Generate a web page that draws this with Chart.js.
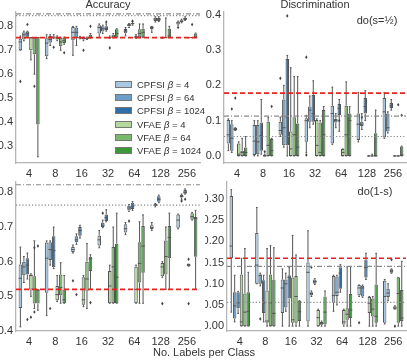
<!DOCTYPE html>
<html>
<head>
<meta charset="utf-8">
<script src="https://cdn.jsdelivr.net/npm/chart.js@4.4.1/dist/chart.umd.min.js"></script>
<style>
  body { margin: 0; background: #fff; }
  #wrap { position: relative; width: 407px; height: 361px; font-family: 'Liberation Sans', Arial, sans-serif; color: #333; }
  canvas { position: absolute; }
  .txt { position: absolute; white-space: nowrap; font-size: 11px; color: #333; }
  #legend { position: absolute; left: 115px; top: 78px; font-size: 9.5px; color: #333; }
  #legend div { height: 13.2px; line-height: 13.2px; }
  #legend span.patch { display: inline-block; width: 15px; height: 5px; border: 1px solid #777; vertical-align: middle; margin-right: 5px; margin-top: -2px; }
</style>
</head>
<body>
<div id="wrap">
  <canvas id="acc" width="205" height="180" style="left:0;top:0"></canvas>
  <canvas id="disc" width="202" height="180" style="left:205px;top:0"></canvas>
  <canvas id="acc2" width="205" height="173" style="left:0;top:172px"></canvas>
  <canvas id="disc2" width="202" height="173" style="left:205px;top:172px"></canvas>
  <div class="txt" style="left:108px;top:-2px;transform:translateX(-50%)">Accuracy</div>
  <div class="txt" style="left:315px;top:-2px;transform:translateX(-50%)">Discrimination</div>
  <div class="txt" style="left:377px;top:14px;transform:translateX(-50%)">do(s=½)</div>
  <div class="txt" style="left:375px;top:185px;transform:translateX(-50%)">do(1-s)</div>
  <div class="txt" style="left:204px;top:346px;transform:translateX(-50%)">No. Labels per Class</div>
  <div id="legend"></div>
</div>
<script>
const categories = ['4', '8', '16', '32', '64', '128', '256'];
const seriesNames = ['CPFSI', 'CPFSI', 'CPFSI', 'VFAE', 'VFAE', 'VFAE'];
const seriesBetas = ['4', '64', '1024', '4', '64', '1024'];
const seriesColors = ['#a7c8e0', '#6b9fca', '#2f6ea6', '#b4d99d', '#7ab86c', '#3d973b'];

// each box: [whisker low, q1, median, q3, whisker high]
// accuracy, top panel
const accCpfsi4 = [[0.70,0.70,0.735,0.748,0.76],[0.665,0.675,0.73,0.75,0.765],[0.679,0.742,0.775,0.797,0.80],[0.753,0.77,0.795,0.805,0.81],[0.76,0.771,0.78,0.79,0.795],[0.775,0.789,0.795,0.80,0.80],[0.805,0.808,0.815,0.82,0.822]];
const accCpfsi64 = [[0.74,0.745,0.765,0.775,0.78],[0.72,0.733,0.745,0.76,0.765],[0.72,0.75,0.775,0.795,0.80],[0.77,0.778,0.79,0.80,0.805],[0.795,0.80,0.805,0.81,0.812],[0.818,0.822,0.83,0.836,0.84],[0.815,0.818,0.822,0.826,0.83]];
const accCpfsi1024 = [[0.755,0.757,0.77,0.778,0.78],[0.75,0.752,0.755,0.758,0.765],[0.748,0.75,0.752,0.755,0.758],[0.78,0.785,0.79,0.80,0.81],[0.805,0.808,0.812,0.815,0.82],[0.82,0.822,0.83,0.835,0.84],[0.825,0.827,0.832,0.836,0.84]];
const accVfae4 = [[0.66,0.70,0.753,0.753,0.753],[0.74,0.745,0.752,0.755,0.76],[0.74,0.745,0.75,0.752,0.755],[0.75,0.753,0.753,0.755,0.76],[0.75,0.753,0.753,0.76,0.765],[0.75,0.753,0.753,0.753,0.755],[0.753,0.753,0.753,0.753,0.753]];
const accVfae64 = [[0.60,0.683,0.753,0.753,0.753],[0.70,0.717,0.735,0.752,0.755],[0.745,0.748,0.75,0.752,0.755],[0.753,0.753,0.755,0.765,0.77],[0.753,0.755,0.77,0.788,0.81],[0.753,0.753,0.753,0.755,0.835],[0.753,0.753,0.753,0.753,0.753]];
const accVfae1024 = [[0.255,0.39,0.753,0.753,0.753],[0.725,0.73,0.74,0.752,0.755],[0.75,0.752,0.755,0.765,0.77],[0.753,0.755,0.77,0.788,0.79],[0.753,0.755,0.775,0.79,0.81],[0.753,0.753,0.76,0.79,0.80],[0.753,0.753,0.755,0.77,0.772]];
// [series, category, value]
const accOutliers = [[0,0,0.57],[2,0,0.808],[4,0,0.55],[2,1,0.713],[5,1,0.69],[3,2,0.70],[5,2,0.80],[3,3,0.71],[2,3,0.818],[0,4,0.785],[2,4,0.822],[0,6,0.795],[4,6,0.808]];
const accRefs = [0.753, 0.852, 0.845];

// discrimination, do(s=1/2)
const discCpfsi4 = [[0.015,0.035,0.06,0.102,0.105],[0,0.003,0.042,0.088,0.10],[0.055,0.06,0.072,0.097,0.11],[0.01,0.04,0.10,0.107,0.115],[0.033,0.035,0.12,0.142,0.195],[0.04,0.045,0.09,0.12,0.18],[0.05,0.052,0.125,0.164,0.18]];
const discCpfsi64 = [[0.01,0.015,0.05,0.09,0.10],[0,0.005,0.04,0.088,0.10],[0.025,0.03,0.08,0.16,0.20],[0.08,0.097,0.13,0.14,0.17],[0.08,0.095,0.1,0.105,0.12],[0.075,0.085,0.09,0.097,0.12],[0.065,0.069,0.08,0.12,0.125]];
const discCpfsi1024 = [[0.072,0.072,0.075,0.079,0.08],[0.005,0.015,0.058,0.095,0.16],[0,0.03,0.11,0.275,0.285],[0.09,0.097,0.12,0.173,0.213],[0.07,0.116,0.135,0.147,0.16],[0.1,0.12,0.14,0.164,0.185],[0.13,0.136,0.142,0.15,0.16]];
const discVfae4 = [[0,0,0.005,0.035,0.04],[0,0,0,0.003,0.005],[0,0,0.02,0.069,0.25],[0,0,0.03,0.102,0.105],[0,0,0.01,0.02,0.02],[0,0,0,0,0],[0,0,0,0,0]];
const discVfae64 = [[0,0,0.01,0.015,0.05],[0,0,0.03,0.097,0.11],[0,0,0.06,0.11,0.225],[0,0,0.01,0.095,0.1],[0,0,0.06,0.142,0.21],[0,0,0,0,0.005],[0,0,0,0,0]];
const discVfae1024 = [[0,0,0.01,0.024,0.055],[0,0,0.015,0.048,0.05],[0,0,0.025,0.092,0.225],[0,0,0.06,0.13,0.14],[0,0,0.1,0.12,0.14],[0,0,0,0.064,0.13],[0,0,0.003,0.027,0.028]];
const discOutliers = [[1,0,0.133],[2,0,0.164],[3,1,0.012],[5,1,0.14],[0,2,0.22],[2,2,0.397],[0,3,0.28],[0,3,0.003],[2,4,0.10],[1,5,0.11],[4,6,0.145],[5,6,0.115]];
const discRefs = [0.178, 0.113, 0.055];

// accuracy, bottom panel
const acc2Cpfsi4 = [[0.412,0.466,0.552,0.592,0.642],[0.445,0.51,0.61,0.655,0.66],[0.625,0.628,0.635,0.642,0.648],[0.64,0.647,0.663,0.675,0.69],[0.678,0.684,0.695,0.708,0.713],[0.69,0.694,0.698,0.705,0.713],[0.695,0.698,0.72,0.736,0.737]];
const acc2Cpfsi64 = [[0.54,0.561,0.585,0.60,0.615],[0.59,0.605,0.635,0.656,0.66],[0.65,0.656,0.663,0.673,0.68],[0.698,0.70,0.705,0.712,0.72],[0.745,0.748,0.755,0.761,0.765],[0.758,0.761,0.763,0.767,0.768],[0.78,0.785,0.788,0.792,0.795]];
const acc2Cpfsi1024 = [[0.55,0.563,0.59,0.61,0.625],[0.58,0.584,0.632,0.673,0.70],[0.668,0.675,0.69,0.70,0.705],[0.715,0.717,0.727,0.736,0.75],[0.748,0.752,0.76,0.77,0.773],[0.77,0.773,0.78,0.789,0.792],[0.795,0.796,0.80,0.807,0.81]];
const acc2Vfae4 = [[0.50,0.52,0.56,0.563,0.565],[0.485,0.489,0.505,0.53,0.56],[0.47,0.476,0.49,0.555,0.56],[0.48,0.48,0.53,0.573,0.59],[0.48,0.48,0.52,0.585,0.59],[0.555,0.558,0.585,0.596,0.60],[0.587,0.587,0.59,0.593,0.593]];
const acc2Vfae64 = [[0.465,0.479,0.52,0.558,0.66],[0.48,0.503,0.525,0.563,0.597],[0.465,0.516,0.55,0.60,0.652],[0.48,0.48,0.585,0.642,0.70],[0.48,0.54,0.595,0.656,0.715],[0.52,0.563,0.615,0.661,0.70],[0.72,0.722,0.73,0.74,0.742]];
const acc2Vfae1024 = [[0.46,0.479,0.518,0.52,0.52],[0.48,0.48,0.49,0.52,0.56],[0.52,0.573,0.608,0.614,0.62],[0.48,0.48,0.555,0.652,0.74],[0.48,0.568,0.645,0.703,0.735],[0.52,0.61,0.67,0.703,0.74],[0.52,0.614,0.725,0.729,0.748]];
const acc2Outliers = [[2,0,0.433],[3,0,0.44],[4,0,0.455],[4,0,0.64],[5,0,0.645],[1,1,0.465],[0,2,0.545],[1,2,0.505],[5,2,0.482],[1,3,0.74],[1,4,0.717],[3,5,0.479],[1,6,0.775],[2,6,0.78],[3,6,0.607],[3,6,0.479]];
const acc2Refs = [0.52, 0.822, 0.763];

// discrimination, do(1-s)
const disc2Cpfsi4 = [[0.033,0.16,0.189,0.307,0.322],[0.10,0.10,0.144,0.22,0.28],[0,0.031,0.09,0.11,0.135],[0,0.011,0.127,0.15,0.225],[0.035,0.055,0.072,0.118,0.12],[0.07,0.073,0.09,0.097,0.097],[0.005,0.008,0.07,0.107,0.11]];
const disc2Cpfsi64 = [[0.01,0.018,0.048,0.08,0.12],[0.095,0.10,0.12,0.122,0.125],[0.035,0.044,0.10,0.11,0.125],[0.07,0.073,0.077,0.08,0.083],[0.05,0.071,0.08,0.117,0.12],[0.068,0.07,0.09,0.095,0.097],[0.06,0.069,0.078,0.088,0.10]];
const disc2Cpfsi1024 = [[0.03,0.042,0.055,0.08,0.082],[0.01,0.031,0.055,0.108,0.12],[0,0.065,0.115,0.12,0.138],[0.098,0.10,0.105,0.11,0.112],[0.08,0.088,0.125,0.139,0.145],[0.11,0.115,0.138,0.157,0.172],[0.125,0.126,0.13,0.134,0.135]];
const disc2Vfae4 = [[0,0,0.01,0.122,0.16],[0,0.008,0.012,0.084,0.183],[0,0.008,0.015,0.115,0.214],[0,0,0.02,0.038,0.04],[0,0.004,0.01,0.038,0.04],[0,0.031,0.054,0.069,0.07],[0.04,0.04,0.043,0.047,0.048]];
const disc2Vfae64 = [[0,0,0.033,0.077,0.183],[0,0,0.055,0.122,0.19],[0,0.008,0.07,0.118,0.168],[0,0.003,0.006,0.01,0.012],[0,0.015,0.028,0.042,0.14],[0,0.023,0.04,0.065,0.07],[0,0.008,0.077,0.115,0.115]];
const disc2Vfae1024 = [[0,0,0.035,0.08,0.127],[0,0,0.03,0.11,0.185],[0,0.012,0.034,0.06,0.06],[0,0.004,0.033,0.07,0.083],[0,0.019,0.038,0.076,0.14],[0,0.008,0.023,0.098,0.172],[0,0.012,0.019,0.085,0.153]];
const disc2Outliers = [[1,1,0.017],[1,3,0.139],[0,5,0.008],[3,6,0.0],[2,6,0.157]];
const disc2Refs = [0.16, 0.141, 0.056];

const accTicks = [0.3, 0.4, 0.5, 0.6, 0.7, 0.8];
const discTicks = [0.0, 0.1, 0.2, 0.3, 0.4];
const acc2Ticks = [0.4, 0.5, 0.6, 0.7, 0.8];
const disc2Ticks = [0.0, 0.05, 0.10, 0.15, 0.20, 0.25, 0.30];

const edge = '#555';

// whiskers, medians, outliers and the horizontal reference lines
const boxPlugin = {
  id: 'boxes',
  afterDatasetsDraw(chart, args, opts) {
    const ctx = chart.ctx;
    const y = chart.scales.y;
    const area = chart.chartArea;
    ctx.save();
    ctx.strokeStyle = edge;
    ctx.lineWidth = 1;
    opts.stats.forEach((series, si) => {
      const meta = chart.getDatasetMeta(si);
      series.forEach((s, ci) => {
        const bar = meta.data[ci];
        const x = bar.x, w = bar.width;
        const [lo, q1, med, q3, hi] = s.map(v => y.getPixelForValue(v));
        ctx.beginPath();
        ctx.moveTo(x, q3); ctx.lineTo(x, hi);
        ctx.moveTo(x, q1); ctx.lineTo(x, lo);
        ctx.moveTo(x - w / 4, hi); ctx.lineTo(x + w / 4, hi);
        ctx.moveTo(x - w / 4, lo); ctx.lineTo(x + w / 4, lo);
        ctx.moveTo(x - w / 2, med); ctx.lineTo(x + w / 2, med);
        ctx.stroke();
      });
    });
    ctx.fillStyle = '#444';
    opts.outliers.forEach(([si, ci, v]) => {
      const bar = chart.getDatasetMeta(si).data[ci];
      const px = bar.x, py = y.getPixelForValue(v);
      ctx.beginPath();
      ctx.moveTo(px, py - 1.8); ctx.lineTo(px + 1.2, py);
      ctx.lineTo(px, py + 1.8); ctx.lineTo(px - 1.2, py);
      ctx.closePath();
      ctx.fill();
    });
    const styles = [
      { color: '#e8231f', dash: [5, 3], width: 1.6 },
      { color: '#8a8a8a', dash: [5, 2, 1, 2], width: 1.1 },
      { color: '#8a8a8a', dash: [1.2, 2], width: 1.1 }
    ];
    opts.refs.forEach((v, i) => {
      const st = styles[i];
      const py = y.getPixelForValue(v);
      ctx.beginPath();
      ctx.setLineDash(st.dash);
      ctx.strokeStyle = st.color;
      ctx.lineWidth = st.width;
      ctx.moveTo(area.left, py);
      ctx.lineTo(area.right, py);
      ctx.stroke();
    });
    ctx.restore();
  }
};

function makePanel(id, stats, outliers, refs, yMin, yMax, ticks, decimals, yWidth, xHeight, pad) {
  const datasets = stats.map((series, si) => ({
    label: seriesNames[si] + ' β = ' + seriesBetas[si],
    data: series.map(s => [s[1], s[3]]),
    backgroundColor: seriesColors[si],
    borderColor: edge,
    borderWidth: 1,
    borderSkipped: false,
    categoryPercentage: 0.8,
    barPercentage: 1.0
  }));
  return new Chart(document.getElementById(id), {
    type: 'bar',
    data: { labels: categories, datasets: datasets },
    plugins: [boxPlugin],
    options: {
      responsive: false,
      animation: false,
      devicePixelRatio: 1,
      layout: { padding: pad },
      plugins: {
        legend: { display: false },
        tooltip: { enabled: false },
        boxes: { stats: stats, outliers: outliers, refs: refs }
      },
      scales: {
        x: {
          grid: { display: false, drawTicks: false },
          border: { display: true, color: '#b5b5b5', width: 1.3 },
          ticks: { color: '#333', padding: 4, font: { family: 'Liberation Sans', size: 11 } },
          afterFit: s => { s.height = xHeight; }
        },
        y: {
          min: yMin,
          max: yMax,
          grid: { display: false, drawTicks: false },
          border: { display: true, color: '#b5b5b5', width: 1.3 },
          ticks: {
            color: '#333', padding: 3, font: { family: 'Liberation Sans', size: 11 },
            callback: v => v.toFixed(decimals)
          },
          afterBuildTicks: s => { s.ticks = ticks.map(v => ({ value: v })); },
          afterFit: s => { s.width = yWidth; }
        }
      }
    }
  });
}

makePanel('acc', [accCpfsi4, accCpfsi64, accCpfsi1024, accVfae4, accVfae64, accVfae1024],
  accOutliers, accRefs, 0.229, 0.86, accTicks, 1, 16, 17, { top: 12, right: 5, left: 0, bottom: 0 });
makePanel('disc', [discCpfsi4, discCpfsi64, discCpfsi1024, discVfae4, discVfae64, discVfae1024],
  discOutliers, discRefs, -0.02, 0.408, discTicks, 1, 19, 17, { top: 12, right: 1, left: 0, bottom: 0 });
makePanel('acc2', [acc2Cpfsi4, acc2Cpfsi64, acc2Cpfsi1024, acc2Vfae4, acc2Vfae64, acc2Vfae1024],
  acc2Outliers, acc2Refs, 0.40, 0.831, acc2Ticks, 1, 16, 14, { top: 5, right: 5, left: 0, bottom: 0 });
makePanel('disc2', [disc2Cpfsi4, disc2Cpfsi64, disc2Cpfsi1024, disc2Vfae4, disc2Vfae64, disc2Vfae1024],
  disc2Outliers, disc2Refs, -0.0115, 0.341, disc2Ticks, 2, 22, 14, { top: 5, right: 1, left: 0, bottom: 0 });

// legend for the accuracy panel
const legend = document.getElementById('legend');
seriesNames.forEach((name, i) => {
  const row = document.createElement('div');
  row.innerHTML = '<span class="patch" style="background:' + seriesColors[i] + '"></span>' +
    name + ' <i>β</i> = ' + seriesBetas[i];
  legend.appendChild(row);
});
</script>
</body>
</html>
